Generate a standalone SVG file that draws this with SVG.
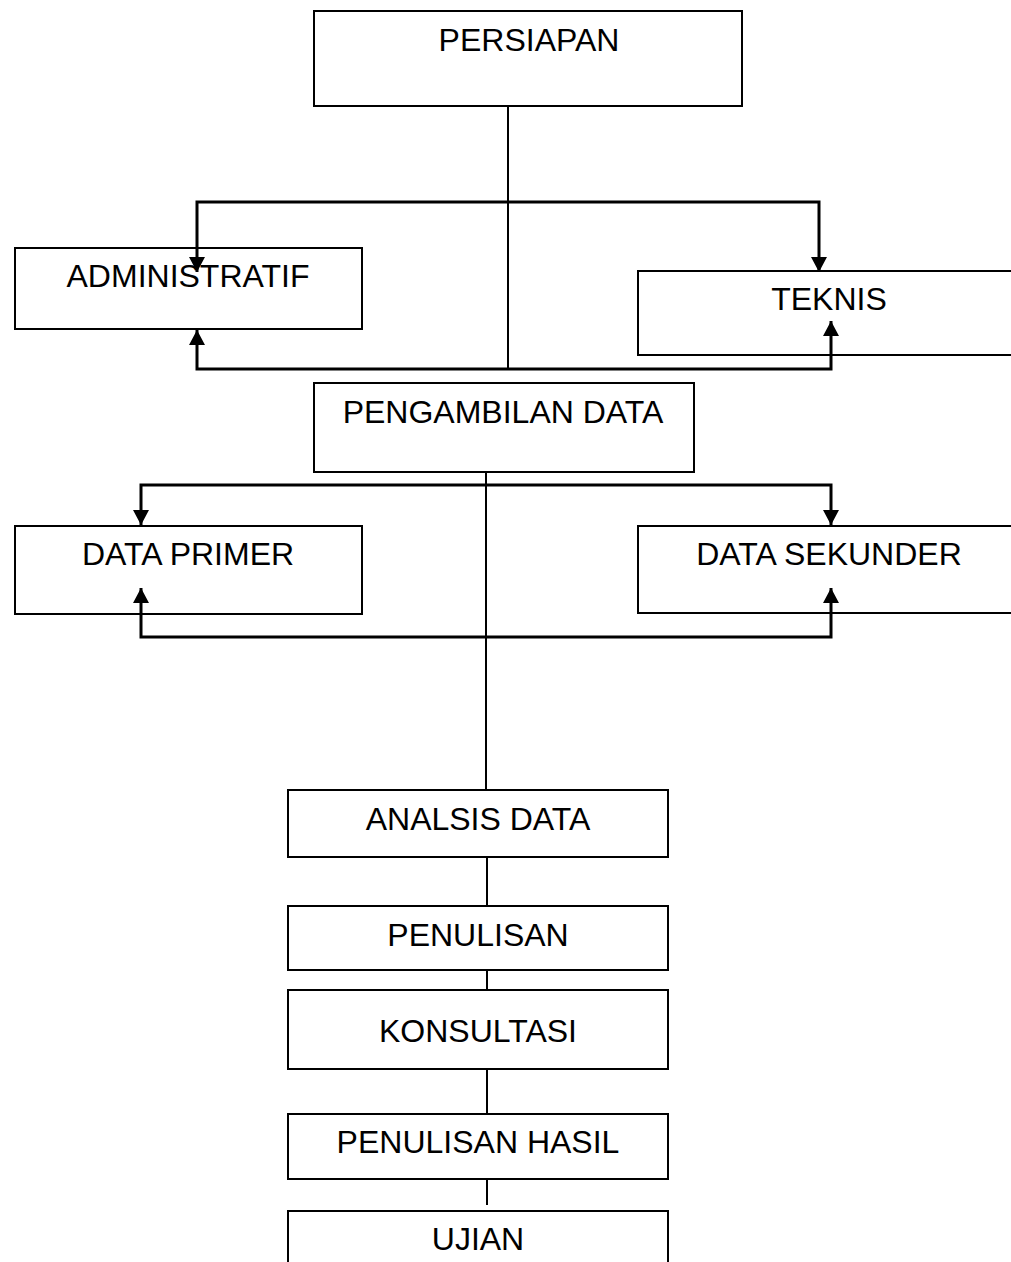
<svg xmlns="http://www.w3.org/2000/svg" width="1011" height="1262" viewBox="0 0 1011 1262">
<style>
.box{fill:#fff;stroke:#000;stroke-width:2}
.lbl{font-family:"Liberation Sans",Arial,sans-serif;font-size:32px;fill:#000;text-anchor:middle}
.con{fill:none;stroke:#000;stroke-width:3}
.ln{fill:none;stroke:#000;stroke-width:2}
</style>
<defs>
<marker id="ah" markerUnits="userSpaceOnUse" markerWidth="17" markerHeight="17" refX="15" refY="8.5" orient="auto" viewBox="0 0 17 17">
<path d="M0,0.5 L15,8.5 L0,16.5 z" fill="#000"/>
</marker>
</defs>
<rect width="1011" height="1262" fill="#fff"/>
<g id="n-persiapan"><rect class="box" x="314" y="11" width="428" height="95"/><text class="lbl" x="529" y="51">PERSIAPAN</text></g>
<g id="n-administratif"><rect class="box" x="15" y="248" width="347" height="81"/><text class="lbl" x="188" y="287">ADMINISTRATIF</text></g>
<g id="n-teknis"><rect class="box" x="638" y="271" width="390" height="84"/><text class="lbl" x="829" y="310">TEKNIS</text></g>
<g id="n-pengambilan"><rect class="box" x="314" y="383" width="380" height="89"/><text class="lbl" x="503" y="423">PENGAMBILAN DATA</text></g>
<g id="n-primer"><rect class="box" x="15" y="526" width="347" height="88"/><text class="lbl" x="188" y="565">DATA PRIMER</text></g>
<g id="n-sekunder"><rect class="box" x="638" y="526" width="390" height="87"/><text class="lbl" x="829" y="565">DATA SEKUNDER</text></g>
<g id="n-analisis"><rect class="box" x="288" y="790" width="380" height="67"/><text class="lbl" x="478" y="830">ANALSIS DATA</text></g>
<g id="n-penulisan"><rect class="box" x="288" y="906" width="380" height="64"/><text class="lbl" x="478" y="946">PENULISAN</text></g>
<g id="n-konsultasi"><rect class="box" x="288" y="990" width="380" height="79"/><text class="lbl" x="478" y="1042">KONSULTASI</text></g>
<g id="n-hasil"><rect class="box" x="288" y="1114" width="380" height="65"/><text class="lbl" x="478" y="1153">PENULISAN HASIL</text></g>
<g id="n-ujian"><rect class="box" x="288" y="1211" width="380" height="80"/><text class="lbl" x="478" y="1250">UJIAN</text></g>
<g id="connectors">
<path class="ln" d="M508,106 V369"/>
<path class="con" d="M508,202 H197 V272" marker-end="url(#ah)"/>
<path class="con" d="M508,202 H819 V272" marker-end="url(#ah)"/>
<path class="con" d="M508,369 H197 V330" marker-end="url(#ah)"/>
<path class="con" d="M508,369 H831 V321" marker-end="url(#ah)"/>
<path class="ln" d="M486,472 V790"/>
<path class="con" d="M486,485 H141 V525" marker-end="url(#ah)"/>
<path class="con" d="M486,485 H831 V525" marker-end="url(#ah)"/>
<path class="con" d="M486,637 H141 V588" marker-end="url(#ah)"/>
<path class="con" d="M486,637 H831 V588" marker-end="url(#ah)"/>
<path class="ln" d="M487,857 V906"/>
<path class="ln" d="M487,970 V990"/>
<path class="ln" d="M487,1069 V1114"/>
<path class="ln" d="M487,1179 V1205"/>
</g>
</svg>
